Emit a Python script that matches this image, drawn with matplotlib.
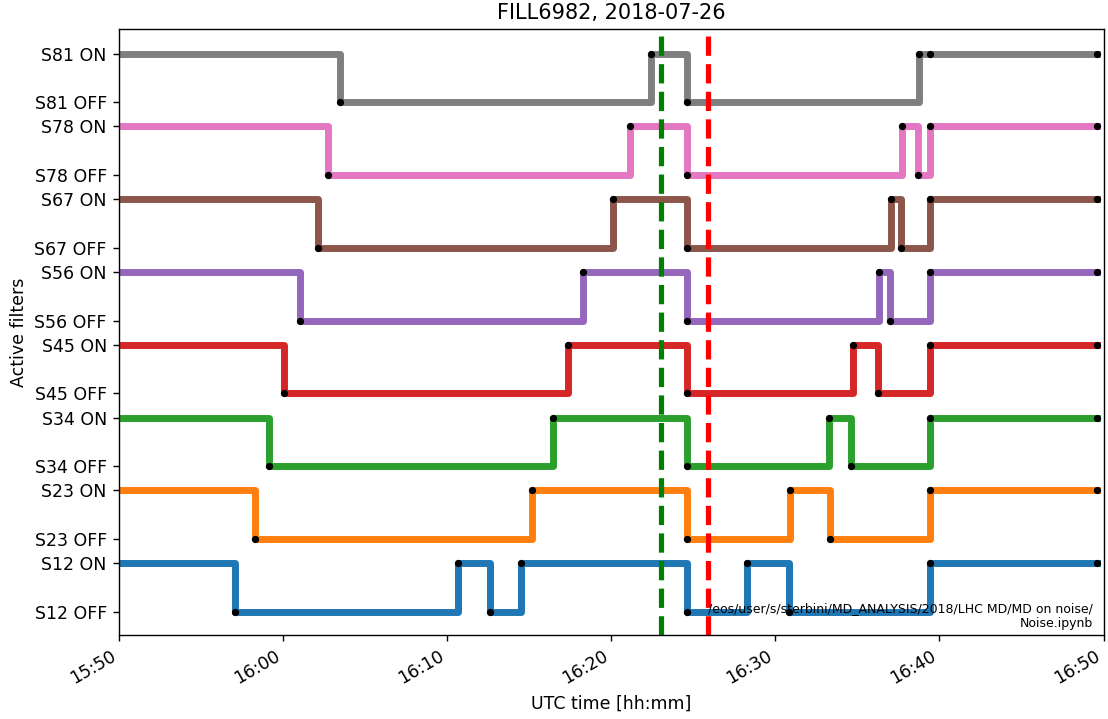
import matplotlib
matplotlib.use("Agg")
import matplotlib.pyplot as plt
import matplotlib.dates as mdates
from datetime import datetime

DAY = "2018-07-26"

sectors = ["S12", "S23", "S34", "S45", "S56", "S67", "S78", "S81"]

# Filter state transitions per sector (1 = ON, 0 = OFF)
s12_times = ["15:45:00", "15:57:03", "16:10:40", "16:12:37", "16:14:30", "16:24:36",
             "16:28:15", "16:30:51", "16:39:27", "16:49:36"]
s12_state = [1, 0, 1, 0, 1, 0, 1, 0, 1, 1]

s23_times = ["15:45:00", "15:58:17", "16:15:11", "16:24:36", "16:30:53", "16:33:20",
             "16:39:27", "16:49:36"]
s23_state = [1, 0, 1, 0, 1, 0, 1, 1]

s34_times = ["15:45:00", "15:59:07", "16:16:28", "16:24:36", "16:33:16", "16:34:37",
             "16:39:27", "16:49:36"]
s34_state = [1, 0, 1, 0, 1, 0, 1, 1]

s45_times = ["15:45:00", "16:00:03", "16:17:23", "16:24:36", "16:34:43", "16:36:16",
             "16:39:27", "16:49:36"]
s45_state = [1, 0, 1, 0, 1, 0, 1, 1]

s56_times = ["15:45:00", "16:01:02", "16:18:18", "16:24:36", "16:36:19", "16:36:58",
             "16:39:27", "16:49:36"]
s56_state = [1, 0, 1, 0, 1, 0, 1, 1]

s67_times = ["15:45:00", "16:02:07", "16:20:07", "16:24:36", "16:37:03", "16:37:40",
             "16:39:27", "16:49:36"]
s67_state = [1, 0, 1, 0, 1, 0, 1, 1]

s78_times = ["15:45:00", "16:02:45", "16:21:10", "16:24:36", "16:37:44", "16:38:41",
             "16:39:27", "16:49:36"]
s78_state = [1, 0, 1, 0, 1, 0, 1, 1]

s81_times = ["15:45:00", "16:03:28", "16:22:25", "16:24:36", "16:38:45", "16:39:27",
             "16:49:36"]
s81_state = [1, 0, 1, 0, 1, 1, 1]

all_times = [s12_times, s23_times, s34_times, s45_times,
             s56_times, s67_times, s78_times, s81_times]
all_states = [s12_state, s23_state, s34_state, s45_state,
              s56_state, s67_state, s78_state, s81_state]

marker_green = "16:23:00"
marker_red = "16:25:55"
x_start, x_end = "15:50:00", "16:50:00"

title = "FILL6982, 2018-07-26"
source_note = "/eos/user/s/sterbini/MD_ANALYSIS/2018/LHC MD/MD on noise/\nNoise.ipynb"


def to_dt(hms):
    return datetime.strptime(f"{DAY} {hms}", "%Y-%m-%d %H:%M:%S")


LEVEL_STEP = 1.5

fig = plt.figure(figsize=(1108 / 125, 719 / 125), dpi=125)
ax = fig.add_axes([0.1074, 0.1168, 0.9960 - 0.1074, 0.9592 - 0.1168])

yticks, ylabels = [], []
for i, (name, times, states) in enumerate(zip(sectors, all_times, all_states)):
    t = [to_dt(s) for s in times]
    y = [LEVEL_STEP * i + v for v in states]
    ax.plot(t, y, drawstyle="steps-post", lw=4, color=f"C{i}")
    ax.plot(t, y, "o", color="k", ms=4.2, mew=0)
    yticks += [LEVEL_STEP * i, LEVEL_STEP * i + 1]
    ylabels += [f"{name} OFF", f"{name} ON"]

ax.axvline(to_dt(marker_green), color="g", ls="--", lw=3)
ax.axvline(to_dt(marker_red), color="r", ls="--", lw=3)

ax.set_yticks(yticks)
ax.set_yticklabels(ylabels)
ax.set_ylim(-0.48, 12.0)
ax.set_xlim(to_dt(x_start), to_dt(x_end))

ax.xaxis.set_major_locator(mdates.MinuteLocator(byminute=range(0, 60, 10)))
ax.xaxis.set_major_formatter(mdates.DateFormatter("%H:%M"))
plt.setp(ax.get_xticklabels(), rotation=30, ha="right")

ax.set_xlabel("UTC time [hh:mm]")
ax.set_ylabel("Active filters")
ax.set_title(title)

ax.text(0.989, 0.008, source_note, transform=ax.transAxes, ha="right", va="bottom",
        fontsize=7.2, zorder=10)

fig.savefig("out.png", dpi=125)
